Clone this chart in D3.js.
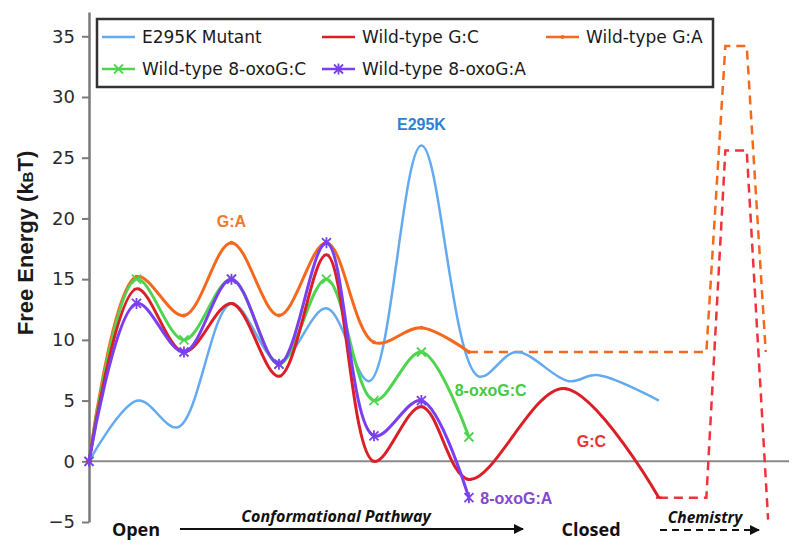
<!DOCTYPE html>
<html>
<head>
<meta charset="utf-8">
<script src="https://cdn.jsdelivr.net/npm/d3@7"></script>
<style>
  body { margin: 0; background: #fff; }
  svg { display: block; }
</style>
</head>
<body>
<div class="chart"></div>
<script>
const width = 800
const height = 551

// reaction coordinate steps along the conformational pathway
const steps = [0, 1, 2, 3, 4, 5, 6, 7, 8]
const gaEnergy = [0, 15.2, 12, 18, 12, 18, 9.8, 11, 9]
const oxoCEnergy = [0, 15, 10, 15, 8, 15, 5, 9, 2]
const oxoAEnergy = [0, 13, 9, 15, 8, 18, 2.1, 5, -3]
const gcSteps = [0, 1, 2, 3, 4, 5, 6, 7, 8, 10, 12]
const gcEnergy = [0, 14.2, 9, 13, 7, 17, 0, 4.5, -1.5, 6, -3]
const e295Steps = [0, 1.03, 1.87, 3, 4, 5, 5.9, 7, 8.2, 9, 10.1, 10.7, 12]
const e295Energy = [0, 5, 2.8, 13, 8.2, 12.6, 6.6, 26, 7, 9, 6.6, 7.1, 5]
// chemistry step (dashed)
const gaChemSteps = [8, 13, 13.4, 13.85, 14.25]
const gaChemEnergy = [9, 9, 34.2, 34.2, 9]
const gcChemSteps = [12, 13, 13.4, 13.85, 14.3]
const gcChemEnergy = [-3, -3, 25.6, 25.6, -4.8]
const yTicks = [-5, 0, 5, 10, 15, 20, 25, 30, 35]

const colors = {
    e295: "#63aaf1",
    gc: "#dc1f27",
    ga: "#f4691d",
    oxoC: "#4fd44f",
    oxoA: "#7a3ff0"
}

const zip = (xs, ys) => xs.map((x, i) => ({x: x, y: ys[i]}))

const svg = d3.select(".chart")
    .append("svg")
    .attr("width", width)
    .attr("height", height)

const xScale = d3.scaleLinear()
    .domain([0, 14.74])
    .range([89, 789])

const yScale = d3.scaleLinear()
    .domain([-5, 37])
    .range([522, 12])

// zero line
svg.append("line")
    .attr("x1", xScale(0))
    .attr("x2", xScale(14.74))
    .attr("y1", yScale(0))
    .attr("y2", yScale(0))
    .attr("stroke", "#8a8a8a")
    .attr("stroke-width", 2)

// y axis
const yAxis = svg.append("g")
    .attr("transform", `translate(${xScale(0)},0)`)
    .call(d3.axisLeft(yScale).tickValues(yTicks).tickSize(7).tickSizeOuter(0).tickPadding(7))

yAxis.select("path.domain").attr("stroke", "#7a7a7a").attr("stroke-width", 2.5)
yAxis.selectAll("g.tick line").attr("stroke", "#7a7a7a").attr("stroke-width", 2)
yAxis.selectAll("g.tick text")
    .attr("fill", "#2a2a2a")
    .style("font-family", "DejaVu Sans, sans-serif")
    .style("font-size", "18px")

// y label
const yLabel = svg.append("text")
    .attr("transform", `translate(33, 243) rotate(-90)`)
    .attr("text-anchor", "middle")
    .style("font-family", "Liberation Sans, Arial, sans-serif")
    .style("font-weight", "bold")
    .style("font-size", "22px")
    .attr("fill", "#1a1a1a")
yLabel.append("tspan").text("Free Energy (k")
yLabel.append("tspan").text("B").style("font-size", "15px")
yLabel.append("tspan").text("T)")

const smooth = d3.line()
    .x(d => xScale(d.x))
    .y(d => yScale(d.y))
    .curve(d3.curveCatmullRom.alpha(0.5))

const straight = d3.line()
    .x(d => xScale(d.x))
    .y(d => yScale(d.y))

// dashed chemistry steps
svg.append("path")
    .attr("d", straight(zip(gaChemSteps, gaChemEnergy)))
    .attr("fill", "none")
    .attr("stroke", colors.ga)
    .attr("stroke-width", 2.5)
    .attr("stroke-dasharray", "9,6")

svg.append("path")
    .attr("d", straight(zip(gcChemSteps, gcChemEnergy)))
    .attr("fill", "none")
    .attr("stroke", "#f0333a")
    .attr("stroke-width", 2.5)
    .attr("stroke-dasharray", "9,6")

const series = [
    {key: "e295", xs: e295Steps, ys: e295Energy, w: 2.5, marker: null},
    {key: "ga", xs: steps, ys: gaEnergy, w: 3, marker: "dot"},
    {key: "oxoC", xs: steps, ys: oxoCEnergy, w: 3, marker: "x"},
    {key: "gc", xs: gcSteps, ys: gcEnergy, w: 3, marker: "dash"},
    {key: "oxoA", xs: steps, ys: oxoAEnergy, w: 3, marker: "star"}
]

function drawMarker(g, type, cx, cy, color) {
    const s = 4.5
    if (type === "x" || type === "star") {
        g.append("path")
            .attr("d", `M${cx - s},${cy - s}L${cx + s},${cy + s}M${cx - s},${cy + s}L${cx + s},${cy - s}` +
                (type === "star" ? `M${cx},${cy - s - 1}L${cx},${cy + s + 1}` : ""))
            .attr("stroke", color)
            .attr("stroke-width", 1.8)
    } else if (type === "dot") {
        g.append("circle")
            .attr("cx", cx).attr("cy", cy).attr("r", 2)
            .attr("fill", color)
    } else if (type === "dash") {
        g.append("line")
            .attr("x1", cx - 3).attr("x2", cx + 3)
            .attr("y1", cy).attr("y2", cy)
            .attr("stroke", color).attr("stroke-width", 2)
    }
}

series.forEach(s => {
    const pts = zip(s.xs, s.ys)
    svg.append("path")
        .attr("d", smooth(pts))
        .attr("fill", "none")
        .attr("stroke", colors[s.key])
        .attr("stroke-width", s.w)
        .attr("stroke-linejoin", "round")
    if (s.marker) {
        const mg = svg.append("g")
        pts.forEach(p => drawMarker(mg, s.marker, xScale(p.x), yScale(p.y), colors[s.key]))
    }
})

// curve annotations
const notes = [
    {text: "E295K", x: 7, y: 27.3, color: "#2f7fd2", anchor: "middle"},
    {text: "G:A", x: 3, y: 19.3, color: "#ef7a2a", anchor: "middle"},
    {text: "8-oxoG:C", x: 7.7, y: 5.35, color: "#45c845", anchor: "start"},
    {text: "G:C", x: 10.27, y: 1.2, color: "#e8362e", anchor: "start"},
    {text: "8-oxoG:A", x: 8.24, y: -3.5, color: "#8448d0", anchor: "start"}
]
svg.selectAll(".note")
    .data(notes)
    .enter().append("text")
    .attr("class", "note")
    .attr("x", d => xScale(d.x))
    .attr("y", d => yScale(d.y))
    .attr("text-anchor", d => d.anchor)
    .attr("fill", d => d.color)
    .style("font-family", "Liberation Sans, Arial, sans-serif")
    .style("font-weight", "bold")
    .style("font-size", "16px")
    .text(d => d.text)

// legend
const legend = svg.append("g")
svg.append("rect")
    .attr("x", 97).attr("y", 19)
    .attr("width", 616).attr("height", 68)
    .attr("fill", "none")
    .attr("stroke", "#333")
    .attr("stroke-width", 2.5)

const legendItems = [
    {key: "e295", label: "E295K Mutant", marker: null, x: 102, y: 37},
    {key: "gc", label: "Wild-type G:C", marker: "dash", x: 322, y: 37},
    {key: "ga", label: "Wild-type G:A", marker: "dot", x: 546, y: 37},
    {key: "oxoC", label: "Wild-type 8-oxoG:C", marker: "x", x: 102, y: 69},
    {key: "oxoA", label: "Wild-type 8-oxoG:A", marker: "star", x: 322, y: 69}
]
legendItems.forEach(d => {
    legend.append("line")
        .attr("x1", d.x).attr("x2", d.x + 33)
        .attr("y1", d.y).attr("y2", d.y)
        .attr("stroke", colors[d.key])
        .attr("stroke-width", 2.5)
    if (d.marker) drawMarker(legend, d.marker, d.x + 16.5, d.y, colors[d.key])
    legend.append("text")
        .attr("x", d.x + 40)
        .attr("y", d.y + 6)
        .attr("fill", "#1a1a1a")
        .style("font-family", "DejaVu Sans, sans-serif")
        .style("font-size", "17px")
        .text(d.label)
})

// pathway labels along the bottom
const defs = svg.append("defs")
defs.append("marker")
    .attr("id", "arrow")
    .attr("viewBox", "0 0 10 10")
    .attr("refX", 9).attr("refY", 5)
    .attr("markerWidth", 5).attr("markerHeight", 5)
    .attr("orient", "auto")
    .append("path")
    .attr("d", "M0,0L10,5L0,10z")
    .attr("fill", "#111")

svg.append("line")
    .attr("x1", 180).attr("x2", 523)
    .attr("y1", 529).attr("y2", 529)
    .attr("stroke", "#111").attr("stroke-width", 2)
    .attr("marker-end", "url(#arrow)")

svg.append("line")
    .attr("x1", 660).attr("x2", 759)
    .attr("y1", 530).attr("y2", 530)
    .attr("stroke", "#111").attr("stroke-width", 2)
    .attr("stroke-dasharray", "7,5")
    .attr("marker-end", "url(#arrow)")

const bottom = [
    {text: "Open", x: 136, y: 536, italic: false, size: 18},
    {text: "Closed", x: 591, y: 536, italic: false, size: 18},
    {text: "Conformational Pathway", x: 336, y: 522, italic: true, size: 16},
    {text: "Chemistry", x: 705, y: 523, italic: true, size: 15.5}
]
svg.selectAll(".bottom")
    .data(bottom)
    .enter().append("text")
    .attr("x", d => d.x)
    .attr("y", d => d.y)
    .attr("text-anchor", "middle")
    .attr("fill", "#111")
    .style("font-family", "Open Sans, sans-serif")
    .style("font-weight", "bold")
    .style("font-style", d => d.italic ? "italic" : "normal")
    .style("font-size", d => d.size + "px")
    .text(d => d.text)
</script>
</body>
</html>
